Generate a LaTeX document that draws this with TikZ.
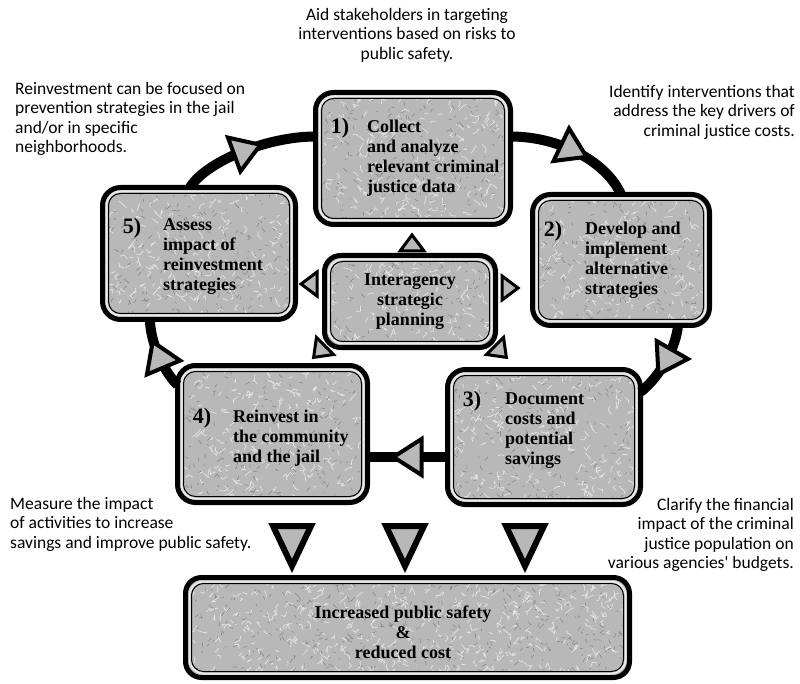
\documentclass[tikz,border=0pt]{standalone}
\usepackage{fontspec}
\setmainfont{Liberation Serif}
\newfontfamily\notefont{Carlito}
\usetikzlibrary{decorations.markings,calc}

\tikzset{
  stagebox/.style={draw=black, line width=5pt, fill=black!28, rounded corners=18pt,
    inner sep=0pt, outer sep=0pt},
  notetext/.style={font=\notefont\fontsize{17.5}{19.5}\selectfont, inner sep=0pt},
  boxtext/.style={font=\bfseries\fontsize{18}{20}\selectfont, inner sep=0pt, align=left},
  numtext/.style={font=\bfseries\fontsize{22}{24}\selectfont, inner sep=0pt},
  cycleline/.style={line width=10pt, draw=black},
  headfill/.style={fill=black!28, draw=black, line width=4pt, line join=miter},
  arrowmid/.style={postaction={decorate, decoration={markings,
      mark=at position 0.5 with {\draw[headfill] (14,0) -- (-14,18) -- (-14,-18) -- cycle;}}}},
  specklight/.style={draw=black!10, line width=0.7pt, line cap=round},
  speckdark/.style={draw=black!50, line width=0.5pt, line cap=round},
}
\newcommand\innerrim[1]{%
  \draw[line width=2pt, draw=black!8, rounded corners=14pt]
    ([xshift=4pt,yshift=4pt]#1.south west) rectangle ([xshift=-4pt,yshift=-4pt]#1.north east);
  \draw[line width=1pt, rounded corners=12pt]
    ([xshift=6pt,yshift=6pt]#1.south west) rectangle ([xshift=-6pt,yshift=-6pt]#1.north east);}
\newcommand\mottle[2]{%
  \begin{scope}
    \clip[rounded corners=12pt] ([xshift=6pt,yshift=6pt]#1.south west) rectangle ([xshift=-6pt,yshift=-6pt]#1.north east);
    \foreach \i in {1,...,#2}{%
      \path let \p1=(#1.south west), \p2=(#1.north east),
        \n1={\x1+rnd*(\x2-\x1)}, \n2={\y1+rnd*(\y2-\y1)} in
        coordinate (sp) at (\n1,\n2);
      \draw[specklight] (sp) -- ++(rand*5pt,rand*4pt) -- ++(rand*4pt,rand*5pt);
      \path let \p1=(#1.south west), \p2=(#1.north east),
        \n1={\x1+rnd*(\x2-\x1)}, \n2={\y1+rnd*(\y2-\y1)} in
        coordinate (sq) at (\n1,\n2);
      \draw[speckdark] (sq) -- ++(rand*4pt,rand*4pt);
    }
  \end{scope}}
\newcommand\smalltri[3]{%
  \draw[headfill, line width=3pt, shift={(#1,#2)}, rotate=#3] (9,0) -- (-7,12) -- (-7,-12) -- cycle;}
\newcommand\downtri[1]{%
  \draw[headfill, line width=6pt] (#1-19,526) -- (#1+19,526) -- (#1,566) -- cycle;}

\begin{document}
\begin{tikzpicture}[x=1pt,y=-1pt]
\pgfmathsetseed{7}
\useasboundingbox (0,0) rectangle (800,684);

% boxes
\node[stagebox, minimum width=195pt, minimum height=132pt] (b1) at (413,158.5) {};
\node[stagebox, minimum width=177pt, minimum height=131pt] (b2) at (621,260) {};
\node[stagebox, minimum width=193pt, minimum height=135pt] (b3) at (544,437) {};
\node[stagebox, minimum width=190pt, minimum height=137pt] (b4) at (272.5,434) {};
\node[stagebox, minimum width=193pt, minimum height=132pt] (b5) at (199,253.5) {};
\node[stagebox, minimum width=171pt, minimum height=92pt, rounded corners=16pt] (bc) at (410,301.5) {};
\node[stagebox, minimum width=444pt, minimum height=100pt, rounded corners=16pt] (bb) at (407.5,627.5) {};
\mottle{b1}{220}\mottle{b2}{200}\mottle{b3}{220}\mottle{b4}{220}\mottle{b5}{220}\mottle{bc}{130}\mottle{bb}{450}
\innerrim{b1}\innerrim{b2}\innerrim{b3}\innerrim{b4}\innerrim{b5}\innerrim{bc}\innerrim{bb}

% cycle connectors
\draw[cycleline, arrowmid] ([yshift=22pt]b1.east) .. controls +(50,0) and +(-14,-32) .. (b2.north);
\draw[cycleline, arrowmid] ([xshift=57pt]b2.south) .. controls +(-2,22) and +(20,-16) .. ([yshift=45pt]b3.east);
\draw[cycleline, arrowmid] ([yshift=-20pt]b3.west) -- ([yshift=-20pt]b3.west -| b4.east);
\draw[cycleline, arrowmid] ([yshift=49pt]b4.west) .. controls +(-16,-16) and +(0,20) .. ([xshift=-49pt]b5.south);
\draw[cycleline, arrowmid] ([xshift=-9pt]b5.north) .. controls +(15,-25) and +(-50,0) .. ([yshift=22pt]b1.west);

% small heads around the planning box
\smalltri{412}{244}{90}
\smalltri{310}{284}{180}
\smalltri{509}{288}{0}
\smalltri{320}{351}{225}
\smalltri{500}{351}{315}

% heads toward the result
\downtri{292}\downtri{405}\downtri{525}

% box texts
\node[numtext] (n1) at (340,128) {1)};
\node[boxtext, anchor=west] (t1) at (367,158) {Collect\\and analyze\\relevant criminal\\justice data};
\node[numtext] (n2) at (553,231) {2)};
\node[boxtext, anchor=west] (t2) at (585,260) {Develop and\\implement\\alternative\\strategies};
\node[numtext] (n3) at (472,401) {3)};
\node[boxtext, anchor=west] (t3) at (505,431) {Document\\costs and\\potential\\savings};
\node[numtext] (n4) at (202,418) {4)};
\node[boxtext, anchor=west] (t4) at (233,438) {Reinvest in\\the community\\and the jail};
\node[numtext] (n5) at (132,228) {5)};
\node[boxtext, anchor=west] (t5) at (163,257) {Assess\\impact of\\reinvestment\\strategies};
\node[boxtext, align=center] (tc) at (410,302) {Interagency\\strategic\\planning};
\node[boxtext, align=center] (tb) at (403,632) {Increased public safety\\\&\\reduced cost};

% annotations
\node[notetext, align=center] (a1) at (407,35) {Aid stakeholders in targeting\\interventions based on risks to\\public safety.};
\node[notetext, align=left, anchor=west] (a2) at (15,119) {Reinvestment can be focused on\\prevention strategies in the jail\\and/or in specific\\neighborhoods.};
\node[notetext, align=right, anchor=east] (a3) at (795,112) {Identify interventions that\\address the key drivers of\\criminal justice costs.};
\node[notetext, align=left, anchor=west] (a4) at (10,524) {Measure the impact\\of activities to increase\\savings and improve public safety.};
\node[notetext, align=right, anchor=east] (a5) at (794,535) {Clarify the financial\\impact of the criminal\\justice population on\\various agencies' budgets.};
\end{tikzpicture}
\end{document}
